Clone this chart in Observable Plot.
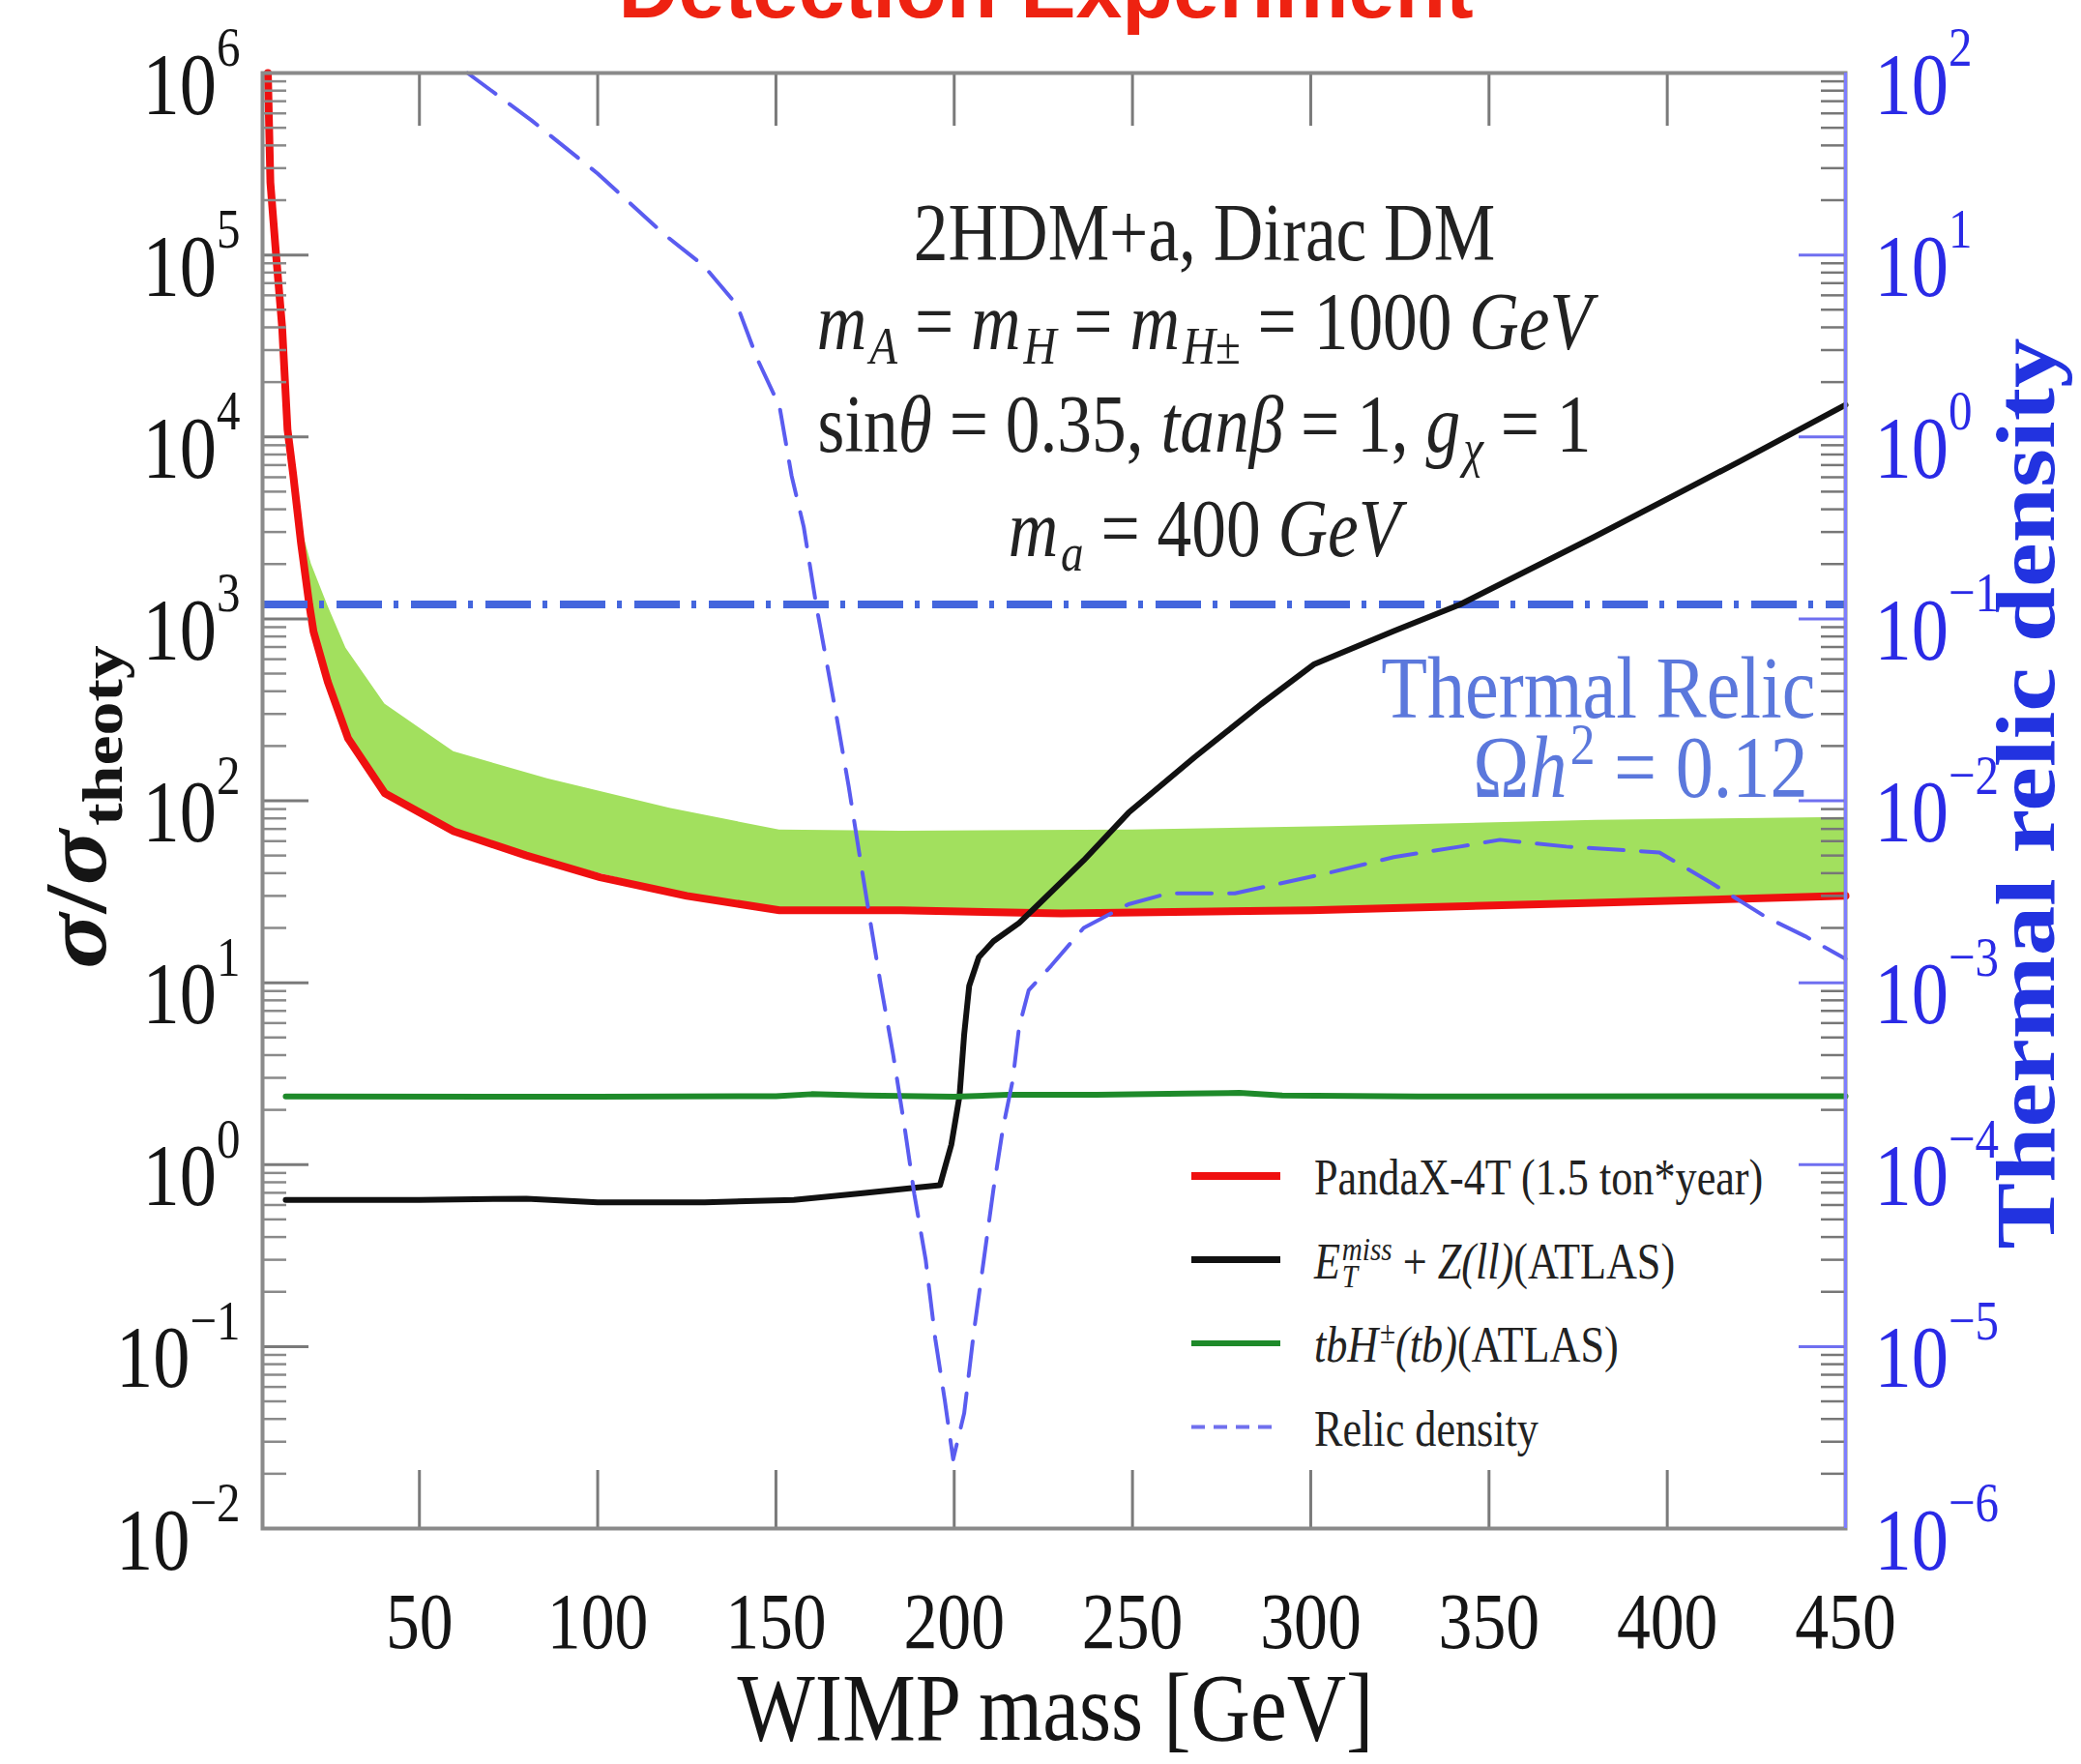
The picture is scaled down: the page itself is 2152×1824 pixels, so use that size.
<!DOCTYPE html>
<html><head><meta charset="utf-8">
<script src="https://cdn.jsdelivr.net/npm/d3@7"></script>
<script src="https://cdn.jsdelivr.net/npm/@observablehq/plot@0.6"></script>
<style>
html,body{margin:0;padding:0;background:#fff;}
#chart{position:relative;width:2152px;height:1824px;overflow:hidden;}
</style></head><body><div id="chart"></div>
<script>
// ---------------- data ----------------
const massTicks = [50, 100, 150, 200, 250, 300, 350, 400, 450];
const sigmaExps = [-2, -1, 0, 1, 2, 3, 4, 5, 6];
const relicExps = [-6, -5, -4, -3, -2, -1, 0, 1, 2];
const xDomain = [6, 450];
const sigmaDomain = [1e-2, 1e6];
const relicToSigma = 1e4; // right axis (relic density) = left axis / 1e4
const thermalRelic = 0.12;

// PandaX-4T (red)
const pandaMass  = [7.5, 8.2, 9.8, 11.5, 13.0, 14.6, 16.8, 19.1, 20.3, 24.3, 30, 40.3, 59.6, 80, 100.7, 125, 151, 185, 230, 300, 380, 450];
const pandaSigma = [1e6, 2.5e5, 1.0e5, 4.0e4, 1.1e4, 6.2e3, 2.6e3, 1.2e3, 850, 450, 220, 110, 68, 50, 38, 30, 25, 25, 24, 25, 27.5, 30];

// green band
const bandMass = [13.5, 16.3, 19.7, 24.3, 29.4, 40.3, 59.6, 85.9, 120.2, 151, 185, 250, 305, 380, 450];
const bandLow  = [9000, 3100, 1050, 450, 235, 110, 68, 47, 32, 25, 25, 24.5, 25.5, 27.5, 30];
const bandHigh = [9000, 3500, 2000, 1180, 690, 340, 186, 132, 91, 69, 68, 69, 72, 78, 81];

// E_T^miss + Z(ll) (ATLAS), black
const atlasZMass  = [12.5, 50, 80, 100, 130, 155, 175, 190, 196, 199.2, 201.5, 202.8, 204.2, 206.9, 211, 218.2, 223.6, 236.3, 248.9, 267.5, 286.1, 301, 323.3, 341.9, 379.2, 420.7, 450];
const atlasZSigma = [0.64, 0.64, 0.65, 0.62, 0.62, 0.64, 0.70, 0.75, 0.77, 1.29, 2.39, 5.2, 9.6, 13.8, 16.9, 21.3, 26.9, 47, 86, 174, 340, 564, 857, 1200, 2800, 7400, 15000];

// tbH±(tb) (ATLAS), green
const atlasHMass  = [12.5, 100, 150, 160, 175, 200, 215, 240, 265, 280, 292, 330, 450];
const atlasHSigma = [2.37, 2.36, 2.38, 2.44, 2.40, 2.36, 2.42, 2.42, 2.46, 2.48, 2.40, 2.37, 2.38];

// Relic density (right axis), blue dashed
const relicMass  = [63.5, 81.4, 100, 118.6, 129.8, 139.1, 144.7, 151, 154.4, 157.8, 161.3, 163.5, 167, 170.4, 173.4, 176.1, 179.3, 182.9, 186.1, 188.8, 192.0, 194.7, 197.4, 199.7, 202.8, 205.5, 208.3, 211.0, 213.7, 216.4, 218.2, 220.9, 227.2, 236.3, 248.9, 260.0, 278.7, 304.7, 323.3, 341.9, 353.1, 371.7, 397.8, 412.7, 427.6, 438.7, 450];
const relicOmega = [100, 55, 28, 13, 8.7, 5.3, 2.7, 1.47, 0.61, 0.32, 0.119, 0.069, 0.029, 0.012, 5.1e-3, 2.4e-3, 1.0e-3, 4.0e-4, 1.6e-4, 6.9e-5, 3.0e-5, 1.1e-5, 5.0e-6, 2.4e-6, 4.3e-6, 1.2e-5, 3.0e-5, 7.3e-5, 1.6e-4, 2.9e-4, 5.7e-4, 9.1e-4, 1.24e-3, 2.0e-3, 2.7e-3, 3.1e-3, 3.1e-3, 4.0e-3, 4.9e-3, 5.6e-3, 6.1e-3, 5.6e-3, 5.2e-3, 3.5e-3, 2.3e-3, 1.8e-3, 1.35e-3];

// texts (markup: ~ toggles italic, _{..} subscript, ^{..} superscript, ^^{..} high superscript)
const titleText = "Detection Experiment";
const modelLines = [
  "2HDM+a, Dirac DM",
  "~m~_{~A~} = ~m~_{~H~} = ~m~_{~H~±} = 1000 ~GeV~",
  "sin~θ~ = 0.35, ~tanβ~ = 1, ~g~_{~χ~} = 1",
  "~m~_{~a~} = 400 ~GeV~"
];
const relicLines = ["Thermal Relic", "Ω~h~^{2} = 0.12"];
const xLabel = "WIMP mass [GeV]";
const yLabel = "~σ~/~σ~_{theoty}";
const y2Label = "Thermal relic density";
const legendLabels = ["PandaX-4T (1.5 ton*year)", "~E~_{~T~}^{~miss~} + ~Z(ll)~(ATLAS)", "~tbH~^{±}~(tb)~(ATLAS)", "Relic density"];

// ---------------- styles / layout ----------------
const W = 2152, H = 1824;
const M = {top: 75, right: 244, bottom: 244, left: 271};
const innerW = W - M.left - M.right;
const innerH = H - M.top - M.bottom;
const C = {red: "#ef1010", black: "#111111", green: "#1e8a2a", band: "#a2e05e", relic: "#5a5cf0",
           dashdot: "#4466dd", axisGray: "#8a8a8a", rightAxis: "#7d7dff", rightMajor: "#6f6ff0",
           rightLabel: "#2a2ae6", relicText: "#5b78dc", y2Label: "#2233e0", title: "#ee2211"};

const fmtExp = e => e < 0 ? "−" + (-e) : String(e);
const pts = (xs, ys) => xs.map((x, i) => ({x, y: ys[i]}));
const panda = pts(pandaMass, pandaSigma);
const band = bandMass.map((x, i) => ({x, lo: bandLow[i], hi: bandHigh[i]}));
const atlasZ = pts(atlasZMass, atlasZSigma);
const atlasH = pts(atlasHMass, atlasHSigma);
const relic = pts(relicMass, relicOmega);
const minorSigma = d3.range(-2, 6).flatMap(n => d3.range(2, 10).map(k => k * 10 ** n));
const sigmaTickPos = sigmaExps.map(e => 10 ** e);
const relicTickPos = relicExps.map(e => 10 ** e * relicToSigma);

const modelX = 1245 - M.left;
const modelBase = [268, 360, 466, 574].map(b => b - M.top);

const svg = Plot.plot({
  width: W, height: H,
  marginTop: M.top, marginRight: M.right, marginBottom: M.bottom, marginLeft: M.left,
  style: {fontFamily: "'Liberation Serif', 'Times New Roman', serif", background: "#fff", overflow: "visible"},
  x: {type: "linear", domain: xDomain, axis: null},
  y: {type: "log", domain: sigmaDomain, axis: null},
  marks: [
    Plot.areaY(band, {x: "x", y1: "lo", y2: "hi", fill: C.band}),
    Plot.line(panda, {x: "x", y: "y", stroke: C.red, strokeWidth: 8, strokeLinejoin: "round"}),
    Plot.ruleY([thermalRelic * relicToSigma], {stroke: C.dashdot, strokeWidth: 8, strokeDasharray: "47,12,5,13"}),
    Plot.line(atlasZ, {x: "x", y: "y", stroke: C.black, strokeWidth: 6, strokeLinejoin: "round"}),
    Plot.line(atlasH, {x: "x", y: "y", stroke: C.green, strokeWidth: 6, strokeLinejoin: "round"}),
    Plot.line(relic, {x: "x", y: d => d.y * relicToSigma, stroke: C.relic, strokeWidth: 4, strokeDasharray: "36,18"}),
    // ticks
    Plot.ruleY(minorSigma, {stroke: C.axisGray, strokeWidth: 2.5, insetRight: innerW - 25}),
    Plot.ruleY(sigmaTickPos, {stroke: "#7a7a7a", strokeWidth: 3, insetRight: innerW - 48}),
    Plot.ruleY(minorSigma, {stroke: "#777", strokeWidth: 2.5, insetLeft: innerW - 25}),
    Plot.ruleY(relicTickPos, {stroke: C.rightMajor, strokeWidth: 3, insetLeft: innerW - 48}),
    Plot.ruleX(massTicks, {stroke: "#7a7a7a", strokeWidth: 3, insetTop: innerH - 60}),
    Plot.ruleX(massTicks, {stroke: "#7a7a7a", strokeWidth: 3, insetBottom: innerH - 55}),
    Plot.frame({stroke: C.axisGray, strokeWidth: 4}),
    Plot.ruleX([xDomain[1]], {stroke: C.rightAxis, strokeWidth: 3}),
    // tick labels
    Plot.text(sigmaExps, {y: e => 10 ** e, text: e => `10^^{${fmtExp(e)}}`, frameAnchor: "left", textAnchor: "end", lineAnchor: "bottom", dx: -23, dy: 42, fontSize: 90, fill: "#151515"}),
    Plot.text(relicExps, {y: e => 10 ** e * relicToSigma, text: e => `10^^{${fmtExp(e)}}`, frameAnchor: "right", textAnchor: "start", lineAnchor: "bottom", dx: 30, dy: 42, fontSize: 90, fill: C.rightLabel}),
    Plot.text(massTicks, {x: d => d, text: d => String(d), frameAnchor: "bottom", lineAnchor: "bottom", dy: 123, fontSize: 82, fill: "#151515"}),
    // axis titles
    Plot.text([xLabel], {text: d => d, frameAnchor: "bottom-left", textAnchor: "middle", lineAnchor: "bottom", dx: 1091 - M.left, dy: 1798 - (H - M.bottom), fontSize: 100, fill: "#151515"}),
    Plot.text([yLabel], {text: d => d, frameAnchor: "top-left", textAnchor: "middle", lineAnchor: "middle", rotate: -90, dx: 80 - M.left, dy: 834 - M.top, fontSize: 106, fontWeight: "bold", fill: "#151515"}),
    Plot.text([y2Label], {text: d => d, frameAnchor: "top-left", textAnchor: "middle", lineAnchor: "middle", rotate: -90, dx: 2095 - M.left, dy: 820 - M.top, fontSize: 103, fontWeight: "bold", fill: C.y2Label}),
    // title (cropped at top of picture, as in the reference)
    Plot.text([titleText], {text: d => d, frameAnchor: "top-left", textAnchor: "middle", lineAnchor: "bottom", dx: 1081 - M.left, dy: 17 - M.top, fontSize: 86, fontWeight: "bold", fontFamily: "'Liberation Sans', Arial, sans-serif", fill: C.title}),
    // model annotation
    ...modelLines.map((line, i) => Plot.text([line], {text: d => d, frameAnchor: "top-left", textAnchor: "middle", lineAnchor: "bottom", dx: modelX, dy: modelBase[i], fontSize: 84, fill: "#222"})),
    // thermal relic annotation
    Plot.text([relicLines[0]], {text: d => d, frameAnchor: "top-left", textAnchor: "end", lineAnchor: "bottom", dx: 1877 - M.left, dy: 741 - M.top, fontSize: 92, fill: C.relicText}),
    Plot.text([relicLines[1]], {text: d => d, frameAnchor: "top-left", textAnchor: "end", lineAnchor: "bottom", dx: 1869 - M.left, dy: 823 - M.top, fontSize: 92, fill: C.relicText})
  ]
});
document.getElementById("chart").append(svg);

// ---------------- legend (inside the frame, lower right) ----------------
const legendStyles = [
  {stroke: C.red, width: 8, dash: null},
  {stroke: C.black, width: 7, dash: null},
  {stroke: C.green, width: 6, dash: null},
  {stroke: "#7070ee", width: 4, dash: "14,9"}
];
const lg = d3.select(svg).append("g").attr("font-size", 52).attr("fill", "#222").attr("text-anchor", "start");
legendLabels.forEach((label, i) => {
  const yRow = 1216 + i * 86.5;
  const st = legendStyles[i];
  lg.append("line").attr("x1", 1232).attr("x2", 1324).attr("y1", yRow).attr("y2", yRow)
    .attr("stroke", st.stroke).attr("stroke-width", st.width).attr("stroke-dasharray", st.dash);
  lg.append("text").attr("text-anchor", "start").attr("transform", `translate(1359,${yRow + 19})`).text(label);
});

// ---------------- rich text + condensed look ----------------
function parseRich(raw) {
  const segs = [];
  let italic = false, mode = 0, buf = "";
  const flush = () => { if (buf) segs.push({text: buf, italic, mode}); buf = ""; };
  for (let i = 0; i < raw.length; i++) {
    const c = raw[i];
    if (c === "~") { flush(); italic = !italic; }
    else if (c === "^" && raw[i + 1] === "^" && raw[i + 2] === "{") { flush(); mode = 3; i += 2; }
    else if ((c === "_" || c === "^") && raw[i + 1] === "{") { flush(); mode = c === "_" ? 1 : 2; i++; }
    else if (c === "}" && mode) { flush(); mode = 0; }
    else buf += c;
  }
  flush();
  return segs;
}
const SHIFT = {0: 0, 1: 0.18, 2: -0.36, 3: -0.55};
const SCALE = {0: 1, 1: 0.66, 2: 0.66, 3: 0.64};
function richify(t) {
  const raw = t.textContent;
  if (!/[~_^]/.test(raw)) return;
  const fs = parseFloat(getComputedStyle(t).fontSize);
  const segs = parseRich(raw);
  t.textContent = "";
  let cur = 0, prev = null, prevEl = null;
  for (const s of segs) {
    const shift = SHIFT[s.mode] * fs;
    const ts = document.createElementNS("http://www.w3.org/2000/svg", "tspan");
    ts.textContent = s.text;
    if (s.italic) ts.setAttribute("font-style", "italic");
    if (s.mode) ts.setAttribute("font-size", (SCALE[s.mode] * fs).toFixed(1) + "px");
    if (shift !== cur) ts.setAttribute("dy", (shift - cur).toFixed(1));
    if (s.mode >= 2 && prev && prev.mode === 1) ts.setAttribute("dx", (-prevEl.getComputedTextLength()).toFixed(1));
    else if ((s.mode === 1 || s.mode === 2) && prev && prev.mode === 0) ts.setAttribute("dx", (0.04 * fs).toFixed(1));
    t.appendChild(ts);
    cur = shift; prev = s; prevEl = ts;
  }
}
svg.querySelectorAll("text").forEach(richify);
svg.querySelectorAll("text").forEach(t => {
  if (t.textContent === titleText) return;
  let tr = t.getAttribute("transform") || "";
  if (!/translate/.test(tr)) {
    const x = +(t.getAttribute("x") || 0), y = +(t.getAttribute("y") || 0);
    t.removeAttribute("x"); t.removeAttribute("y");
    tr = `translate(${x},${y}) ${tr}`;
  }
  const rot = /rotate/.test(tr);
  t.setAttribute("transform", tr + (rot ? " scale(1,0.85)" : " scale(0.85,1)"));
});
</script>
</body></html>
